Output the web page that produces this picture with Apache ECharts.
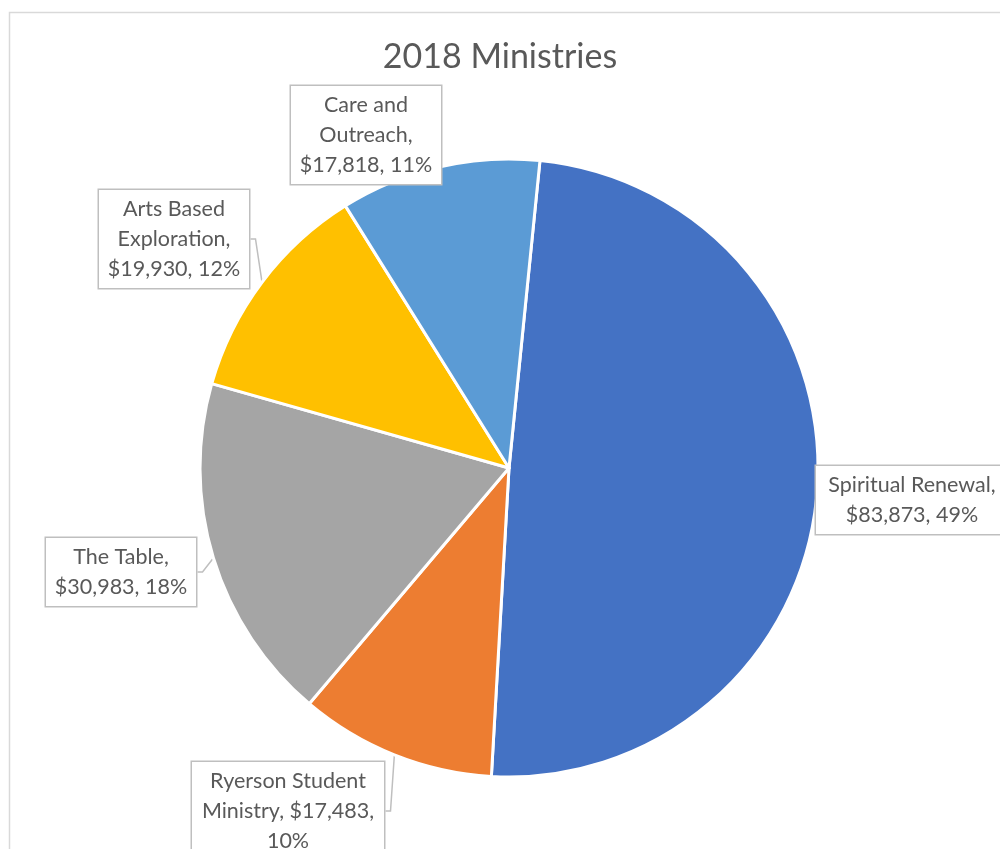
<!DOCTYPE html>
<html>
<head>
<meta charset="utf-8">
<script src="https://cdn.jsdelivr.net/npm/echarts@6/dist/echarts.min.js"></script>
<style>
html,body{margin:0;padding:0;background:#fff;}
#chart{width:1000px;height:849px;}
</style>
</head>
<body>
<div id="chart"></div>
<script>
const categories = ['Spiritual Renewal', 'Ryerson Student Ministry', 'The Table', 'Arts Based Exploration', 'Care and Outreach'];
const amounts = [83873, 17483, 30983, 19930, 17818];
const sliceColors = ['#4472C4', '#ED7D31', '#A5A5A5', '#FFC000', '#5B9BD5'];
const chartTitle = '2018 Ministries';

// label box placement (layout only)
const labelBoxes = [
  {x: 912, y: 500, w: 176, line: false},
  {x: 288, y: 811, w: 176, line: true},
  {x: 121, y: 572, w: 134, line: true},
  {x: 174, y: 239, w: 134, line: true},
  {x: 366, y: 135, w: 134, line: false}
];

const font = 'Lato, "Open Sans", sans-serif';
const labelFontSize = 21.5;

// greedy word wrap like Excel data labels
const measureCtx = document.createElement('canvas').getContext('2d');
function wrapText(text, maxW) {
  measureCtx.font = labelFontSize + 'px ' + font;
  const words = text.split(' ');
  const lines = [];
  let cur = '';
  words.forEach(w => {
    const test = cur ? cur + ' ' + w : w;
    if (cur && measureCtx.measureText(test).width > maxW) {
      lines.push(cur);
      cur = w;
    } else {
      cur = test;
    }
  });
  if (cur) lines.push(cur);
  return lines.join('\n');
}

const chart = echarts.init(document.getElementById('chart'));

const data = categories.map((name, i) => ({
  name: name,
  value: amounts[i],
  itemStyle: {color: sliceColors[i]},
  label: {width: labelBoxes[i].w},
  labelLine: {show: labelBoxes[i].line}
}));

chart.setOption({
  animation: false,
  backgroundColor: '#ffffff',
  title: {
    text: chartTitle,
    left: 'center',
    top: 35,
    textStyle: {fontFamily: font, fontSize: 34, fontWeight: 'normal', color: '#595959'}
  },
  graphic: [{
    type: 'rect',
    silent: true,
    shape: {x: 9.5, y: 12.5, width: 1300, height: 1300},
    style: {fill: 'none', stroke: '#d9d9d9', lineWidth: 1.5}
  }],
  series: [{
    type: 'pie',
    center: [509, 468],
    radius: 309,
    startAngle: 84.25,
    clockwise: true,
    percentPrecision: 0,
    avoidLabelOverlap: false,
    emphasis: {disabled: true},
    itemStyle: {borderColor: '#ffffff', borderWidth: 3},
    label: {
      show: true,
      position: 'outside',
      fontFamily: font,
      fontSize: labelFontSize,
      lineHeight: 30,
      color: '#595959',
      align: 'center',
      backgroundColor: '#ffffff',
      borderColor: '#bfbfbf',
      borderWidth: 1.5,
      padding: [4, 8, 4, 8],
      formatter: p => wrapText(p.name + ', $' + echarts.format.addCommas(p.value) + ', ' + p.percent + '%', labelBoxes[p.dataIndex].w)
    },
    labelLine: {
      show: true,
      length: 10,
      length2: 5,
      smooth: false,
      lineStyle: {color: '#bfbfbf', width: 1.5}
    },
    labelLayout: function (params) {
      const b = labelBoxes[params.dataIndex];
      return {x: b.x, y: b.y, align: 'center', verticalAlign: 'middle'};
    },
    data: data
  }]
});
</script>
</body>
</html>
